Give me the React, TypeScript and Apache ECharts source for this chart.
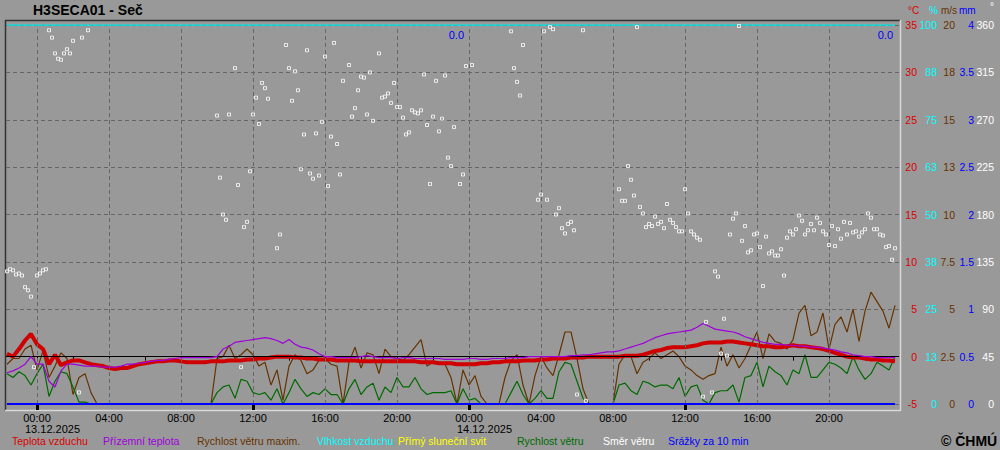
import React, { useEffect, useRef } from "react";
import * as echarts from "echarts";

// Time base: 10-minute slots counted from 13.12.2025 00:00; series sampled every 20 min from 12.12.2025 22:20
const START_SLOT = -10;
const STEP_SLOTS = 2;

// Teplota vzduchu (°C)
const airTemp = [
  0.3, 0.0, 0.8, 1.7, 2.4, 1.3, 0.8, -0.8, 0.2, -0.9,
  -0.6, -0.4, -0.4, -0.6, -0.8, -0.9, -1.0, -1.2, -1.3, -1.2,
  -1.2, -1.0, -0.8, -0.7, -0.6, -0.5, -0.5, -0.4, -0.4, -0.5,
  -0.6, -0.6, -0.6, -0.6, -0.5, -0.5, -0.5, -0.4, -0.4, -0.4,
  -0.3, -0.3, -0.2, -0.2, -0.1, 0.0, 0.0, 0.0, -0.1, -0.1,
  -0.2, -0.2, -0.3, -0.3, -0.3, -0.4, -0.4, -0.4, -0.4, -0.5,
  -0.5, -0.5, -0.5, -0.5, -0.5, -0.5, -0.5, -0.5, -0.5, -0.6,
  -0.6, -0.6, -0.7, -0.7, -0.7, -0.8, -0.8, -0.8, -0.8, -0.7,
  -0.7, -0.6, -0.6, -0.5, -0.5, -0.5, -0.4, -0.4, -0.4, -0.3,
  -0.3, -0.2, -0.2, -0.2, -0.1, -0.1, -0.1, 0.0, 0.0, 0.0,
  0.0, 0.0, 0.0, 0.1, 0.1, 0.1, 0.2, 0.4, 0.6, 0.7,
  0.9, 1.0, 1.0, 1.0, 1.1, 1.2, 1.4, 1.5, 1.5, 1.5,
  1.6, 1.6, 1.5, 1.4, 1.3, 1.2, 1.1, 1.1, 1.0, 1.0,
  1.1, 1.2, 1.1, 1.1, 1.0, 0.9, 0.8, 0.6, 0.4, 0.2,
  0.0, -0.1, -0.1, -0.2, -0.3, -0.3, -0.4, -0.4, -0.5,
];

// Přízemní teplota (°C)
const groundTemp = [
  -1.7, -1.5, -1.2, -0.8, 0.0, -0.8, -0.8, -2.6, -3.2, -1.5,
  -0.8, -0.8, -0.9, -1.0, -1.0, -1.0, -1.1, -1.1, -1.1, -1.0,
  -0.8, -0.8, -0.7, -0.6, -0.5, -0.4, -0.4, -0.3, -0.2, -0.1,
  -0.1, -0.1, -0.1, -0.1, -0.1, 0.0, 0.8, 1.1, 1.5, 1.6,
  1.7, 1.8, 1.9, 2.0, 1.9, 1.7, 1.4, 1.8, 1.3, 1.0,
  0.9, 0.7, 0.3, 0.0, 0.0, -0.1, -0.1, -0.1, -0.1, 0.0,
  0.1, 0.0, -0.1, -0.1, -0.1, -0.2, -0.1, -0.1, -0.2, -0.2,
  -0.2, -0.2, -0.2, -0.3, -0.3, -0.3, -0.3, -0.2, -0.2, -0.3,
  -0.3, -0.2, -0.2, -0.2, -0.1, -0.1, -0.1, 0.0, 0.0, 0.0,
  0.0, 0.0, 0.0, 0.0, 0.1, 0.1, 0.2, 0.2, 0.3, 0.4,
  0.5, 0.5, 0.6, 0.8, 1.0, 1.2, 1.4, 1.7, 2.0, 2.2,
  2.4, 2.5, 2.6, 2.7, 2.8, 3.1, 3.5, 3.2, 2.9, 2.8,
  2.7, 2.6, 2.4, 2.1, 1.9, 1.7, 1.5, 1.4, 1.3, 1.3,
  1.2, 1.2, 1.1, 1.1, 1.0, 1.0, 0.9, 0.8, 0.7, 0.5,
  0.4, 0.2, 0.1, 0.0, 0.0, -0.1, -0.1, -0.1, -0.1,
];

// Rychlost větru maxim. (m/s)
const windGust = [
  2.1, 2.4, 2.4, 2.9, 3.1, 1.8, 2.8, 1.4, 2.0, 2.7,
  2.4, 0.5, 1.4, 1.6, 0.6, 0, 0, 0, 0, 0,
  0, 0, 0, 0, 0, 0, 0, 0, 0, 0,
  0, 0, 0, 0, 0, 2.4, 2.5, 3.1, 2.4, 2.6,
  2.9, 2.6, 2.0, 2.2, 1.0, 1.8, 0.2, 2.0, 2.6, 2.3,
  1.6, 1.8, 2.3, 2.4, 2.1, 2.0, 0, 2.2, 3.0, 1.9,
  2.7, 2.6, 1.6, 2.9, 2.5, 2.4, 2.3, 2.6, 3.0, 3.4,
  2.0, 2.2, 2.1, 2.1, 1.4, 0, 1.8, 1.0, 1.5, 0.4,
  0, 0, 0, 1.4, 2.3, 2.6, 1.0, 0, 1.5, 2.5,
  1.9, 1.5, 2.6, 3.8, 3.8, 2.4, 0.8, 0, 0, 0,
  0, 0, 2.1, 2.6, 2.5, 1.6, 2.2, 2.4, 2.7, 2.4,
  2.6, 2.8, 2.5, 2.0, 1.8, 1.5, 1.3, 1.5, 1.6, 3.0,
  2.0, 2.6, 1.9, 2.4, 3.1, 3.8, 2.4, 3.7, 3.3, 3.2,
  2.9, 3.4, 4.8, 5.2, 3.6, 3.8, 4.8, 2.9, 4.2, 4.6,
  3.8, 5.0, 3.3, 4.9, 5.9, 5.4, 4.9, 4.0, 5.2,
];

// Rychlost větru (m/s)
const windSpeed = [
  1.6, 1.4, 1.7, 1.5, 1.0, 1.6, 2.1, 0.4, 1.2, 1.7,
  1.6, 0.9, 0.1, 0.1, 0, 0, 0, 0, 0, 0,
  0, 0, 0, 0, 0, 0, 0, 0, 0, 0,
  0, 0, 0, 0, 0, 0.6, 0.9, 1.0, 0.3, 1.3,
  1.2, 0.6, 0.5, 0.6, 0.2, 0.8, 0, 0.6, 1.3, 0.8,
  0.4, 0.6, 0.5, 0.8, 0.5, 0.5, 0, 0.8, 1.3, 0.5,
  0.9, 1.1, 0.2, 0.9, 0.6, 1.4, 0.9, 0.9, 1.4, 0.8,
  0.5, 0.6, 0.6, 0.6, 0.7, 0, 0.8, 0.2, 0.3, 0,
  0, 0, 0, 0, 0.6, 1.2, 0.5, 0, 0.3, 0.7,
  0.3, 0.3, 1.7, 2.2, 2.1, 1.2, 0.3, 0, 0, 0,
  0, 0, 1.0, 1.1, 0.7, 0.5, 1.2, 1.1, 0.9, 1.0,
  1.0, 0.8, 1.4, 0.4, 0.9, 1.0, 0.2, 0, 0.6, 0.7,
  0.7, 1.0, 0.1, 1.4, 1.5, 2.2, 0.9, 2.0, 1.7, 1.5,
  1.0, 1.8, 1.6, 2.6, 1.4, 1.4, 1.8, 2.2, 2.1, 1.9,
  1.6, 2.5, 1.8, 1.3, 1.6, 2.2, 2.0, 1.8, 2.5,
];

// Vlhkost vzduchu (%)
const humidity = [
  100, 100, 100, 100, 100, 100, 100, 100, 100, 100,
  100, 100, 100, 100, 100, 100, 100, 100, 100, 100,
  100, 100, 100, 100, 100, 100, 100, 100, 100, 100,
  100, 100, 100, 100, 100, 100, 100, 100, 100, 100,
  100, 100, 100, 100, 100, 100, 100, 100, 100, 100,
  100, 100, 100, 100, 100, 100, 100, 100, 100, 100,
  100, 100, 100, 100, 100, 100, 100, 100, 100, 100,
  100, 100, 100, 100, 100, 100, 100, 100, 100, 100,
  100, 100, 100, 100, 100, 100, 100, 100, 100, 100,
  100, 100, 100, 100, 100, 100, 100, 100, 100, 100,
  100, 100, 100, 100, 100, 100, 100, 100, 100, 100,
  100, 100, 100, 100, 100, 100, 100, 100, 100, 100,
  100, 100, 100, 100, 100, 100, 100, 100, 100, 100,
  100, 100, 100, 100, 100, 100, 100, 100, 100, 100,
  100, 100, 100, 100, 100, 100, 100, 100, 100,
];

// Přímý sluneční svit and Srážky za 10 min (all zero in this period)
const sunshine = [
  0, 0, 0, 0, 0, 0, 0, 0, 0, 0, 0, 0, 0, 0, 0, 0, 0, 0, 0, 0,
  0, 0, 0, 0, 0, 0, 0, 0, 0, 0, 0, 0, 0, 0, 0, 0, 0, 0, 0, 0,
  0, 0, 0, 0, 0, 0, 0, 0, 0, 0, 0, 0, 0, 0, 0, 0, 0, 0, 0, 0,
  0, 0, 0, 0, 0, 0, 0, 0, 0, 0, 0, 0, 0, 0, 0, 0, 0, 0, 0, 0,
  0, 0, 0, 0, 0, 0, 0, 0, 0, 0, 0, 0, 0, 0, 0, 0, 0, 0, 0, 0,
  0, 0, 0, 0, 0, 0, 0, 0, 0, 0, 0, 0, 0, 0, 0, 0, 0, 0, 0, 0,
  0, 0, 0, 0, 0, 0, 0, 0, 0, 0, 0, 0, 0, 0, 0, 0, 0, 0, 0, 0,
  0, 0, 0, 0, 0, 0, 0, 0, 0,
];
const precip = [
  0, 0, 0, 0, 0, 0, 0, 0, 0, 0, 0, 0, 0, 0, 0, 0, 0, 0, 0, 0,
  0, 0, 0, 0, 0, 0, 0, 0, 0, 0, 0, 0, 0, 0, 0, 0, 0, 0, 0, 0,
  0, 0, 0, 0, 0, 0, 0, 0, 0, 0, 0, 0, 0, 0, 0, 0, 0, 0, 0, 0,
  0, 0, 0, 0, 0, 0, 0, 0, 0, 0, 0, 0, 0, 0, 0, 0, 0, 0, 0, 0,
  0, 0, 0, 0, 0, 0, 0, 0, 0, 0, 0, 0, 0, 0, 0, 0, 0, 0, 0, 0,
  0, 0, 0, 0, 0, 0, 0, 0, 0, 0, 0, 0, 0, 0, 0, 0, 0, 0, 0, 0,
  0, 0, 0, 0, 0, 0, 0, 0, 0, 0, 0, 0, 0, 0, 0, 0, 0, 0, 0, 0,
  0, 0, 0, 0, 0, 0, 0, 0, 0,
];

// Směr větru: 10-min slot index and direction (°)
const dirSlot = [
  -10, -9, -8, -7, -6, -5, -4, -3, -2, -1, 0, 1, 2, 3, 4, 5, 6, 7, 8, 9, 10, 11, 12, 14, 15, 17,
  60, 61, 62, 63, 64, 66, 67, 68, 69, 70, 71, 72, 73, 74, 75, 76, 77, 80, 81, 83, 84, 85, 86, 87,
  88, 89, 90, 91, 92, 93, 94, 95, 96, 97, 98, 99, 100, 101, 102, 104, 105, 106, 107, 108, 109, 110,
  111, 112, 114, 115, 116, 117, 118, 119, 120, 121, 122, 123, 124, 125, 126, 127, 128, 129, 130,
  131, 132, 133, 134, 135, 136, 137, 138, 139, 141, 142, 143, 145,
  158, 159, 160, 161, 162, 167, 168, 169, 170, 171, 172, 173, 174, 175, 176, 177, 178, 179, 180, 182, 183,
  194, 195, 196, 197, 198, 199, 200, 201, 202, 203, 204, 205, 206, 207, 208, 209, 210, 211, 212, 213,
  214, 215, 216, 217, 218, 219, 220, 221, 222, 223, 225, 226, 227, 228, 229, 230, 231, 232, 233, 234,
  235, 236, 237, 238, 239, 240, 241, 242, 243, 244, 245, 246, 247, 248, 249, 250, 251, 252, 253, 254,
  255, 256, 257, 258, 259, 260, 261, 262, 263, 264, 265, 266, 267, 268, 269, 270, 271, 272, 273, 274,
  275, 276, 277, 278, 279, 280, 281, 282, 283, 284, 285, 286,
];
const dirDeg = [
  126, 128, 127, 123, 124, 122, 111, 108, 102, 35, 122, 124, 127, 128, 355, 348, 333, 328, 327, 333, 337, 333, 345, 11, 348, 355,
  274, 215, 180, 175, 275, 319, 208, 35, 168, 173, 221, 275, 291, 266, 305, 300, 290, 148, 161, 341, 319, 288, 316, 298,
  223, 256, 336, 219, 214, 257, 217, 268, 330, 207, 254, 343, 247, 218, 307, 322, 273, 281, 298, 311, 310, 275,
  315, 269, 333, 291, 292, 295, 286, 305, 282, 282, 272, 256, 258, 279, 277, 276, 279, 313, 265,
  209, 273, 307, 259, 271, 312, 234, 226, 263, 209, 218, 321, 322,
  354, 319, 306, 293, 341, 194, 199, 354, 194, 358, 356, 180, 186, 167, 162, 171, 173, 165, 9, 355, 3,
  204, 193, 193, 226, 213, 198, 358, 187, 181, 168, 171, 169, 178, 171, 173, 167, 190, 175, 172, 168,
  164, 164, 204, 181, 164, 161, 158, 156, 7, 78, 11, 126, 121, 48, 81, 46, 161, 176, 181, 359,
  155, 169, 144, 146, 161, 162, 149, 112, 159, 143, 145, 141, 141, 147, 122, 158, 164, 161, 166, 179,
  174, 161, 165, 171, 165, 177, 172, 164, 161, 151, 169, 150, 166, 157, 173, 161, 172, 163, 164, 159,
  163, 166, 181, 177, 166, 166, 161, 160, 149, 150, 137, 148,
];

// Axis labels
const tempTicks = ["-5", "0", "5", "10", "15", "20", "25", "30", "35"];
const humTicks = ["0", "13", "25", "38", "50", "63", "75", "88", "100"];
const windTicks = ["0", "2.5", "5", "7.5", "10", "13", "15", "18", "20"];
const precTicks = ["0", "0.5", "1", "1.5", "2", "2.5", "3", "3.5", "4"];
const dirTicks = ["0", "45", "90", "135", "180", "225", "270", "315", "360"];
const hourLabels = ["00:00", "04:00", "08:00", "12:00", "16:00", "20:00", "00:00", "04:00", "08:00", "12:00", "16:00", "20:00"];
const labelHours = [0, 4, 8, 12, 16, 20, 24, 28, 32, 36, 40, 44];
const tickHours = [0, 2, 4, 6, 8, 10, 12, 14, 16, 18, 20, 22, 24, 26, 28, 30, 32, 34, 36, 38, 40, 42, 44, 46];
const majorTickHours = [0, 12, 24, 36];
const dayHours = [0, 24];
const dayLabels = ["13.12.2025", "14.12.2025"];
const dailyPrecip = ["0.0", "0.0"];

const X_MIN = -31 / 18;
const X_MAX = 862 / 18;
const FONT = '"Liberation Sans", Arial, sans-serif';
const BG = "#999999";

const toLine = (arr: number[]) => arr.map((v, i) => [(START_SLOT + i * STEP_SLOTS) / 6, v]);

function buildOption() {
  const yAx = (min: number, max: number, interval: number, labels: string[], color: string, margin: number, split: boolean) => ({
    type: "value",
    position: "right",
    min,
    max,
    interval,
    axisLine: { show: false },
    axisTick: { show: false },
    splitLine: split ? { show: true, lineStyle: { color: "#666666", type: [4, 3], width: 1 } } : { show: false },
    axisLabel: {
      color,
      fontSize: 10.5,
      fontFamily: FONT,
      margin,
      align: "right",
      formatter: (v: number) => labels[Math.round((v - min) / interval)] ?? "",
    },
  });

  const txt = (text: string, x: number, y: number, fill: string, opts: any = {}) => ({
    type: "text",
    x,
    y,
    silent: true,
    style: {
      text,
      fill,
      font: opts.font || `10.5px ${FONT}`,
      textAlign: opts.align || "left",
      textVerticalAlign: "middle",
      align: opts.align || "left",
      verticalAlign: "middle",
    },
  });

  const legendItems = [
    ["Teplota vzduchu", 12, "#dd0000"],
    ["Přízemní teplota", 103, "#a000dc"],
    ["Rychlost větru maxim.", 197, "#663300"],
    ["Vlhkost vzduchu", 317, "#00ffff"],
    ["Přímý sluneční svit", 398, "#ffff00"],
    ["Rychlost větru", 517, "#006a00"],
    ["Směr větru", 603, "#ffffff"],
    ["Srážky za 10 min", 668, "#0000ff"],
  ] as const;

  const graphic: any[] = [
    { type: "line", silent: true, shape: { x1: 5, y1: 20.5, x2: 900, y2: 20.5 }, style: { stroke: "#333333", lineWidth: 1.5 } },
    { type: "line", silent: true, shape: { x1: 5.5, y1: 20, x2: 5.5, y2: 411 }, style: { stroke: "#333333", lineWidth: 1.5 } },
    { type: "line", silent: true, shape: { x1: 900.5, y1: 20, x2: 900.5, y2: 411 }, style: { stroke: "#d8d8d8", lineWidth: 1.5 } },
    { type: "line", silent: true, shape: { x1: 5, y1: 410.5, x2: 901, y2: 410.5 }, style: { stroke: "#d8d8d8", lineWidth: 1.5 } },
    txt("H3SECA01 - Seč", 33, 10, "#000000", { font: `bold 14px ${FONT}` }),
    txt("°C", 908, 10, "#dd0000", { font: `10px ${FONT}` }),
    txt("%", 929, 10, "#00ffff", { font: `10px ${FONT}` }),
    txt("m/s", 941, 10, "#663300", { font: `10px ${FONT}` }),
    txt("mm", 959, 10, "#0000ff", { font: `10px ${FONT}` }),
    txt("°", 990, 6, "#ffffff", { font: `10px ${FONT}` }),
    txt(dayLabels[0], 25, 429, "#000000", { font: `11px ${FONT}` }),
    txt(dayLabels[1], 457, 429, "#000000", { font: `11px ${FONT}` }),
    txt(dailyPrecip[0], 464, 35, "#0000ff", { align: "right", font: `11px ${FONT}` }),
    txt(dailyPrecip[1], 893, 35, "#0000ff", { align: "right", font: `11px ${FONT}` }),
    txt("© ČHMÚ", 941, 441, "#000000", { font: `bold 14px ${FONT}` }),
    ...legendItems.map(([t, x, c]) => txt(t as string, x as number, 441, c as string)),
  ];

  return {
    animation: false,
    backgroundColor: BG,
    grid: { left: 6, right: 101, top: 25, bottom: 46, containLabel: false },
    xAxis: [
      {
        type: "value",
        min: X_MIN,
        max: X_MAX,
        position: "bottom",
        axisLine: { show: false },
        splitLine: { show: false },
        axisTick: { show: true, customValues: tickHours, length: 4, lineStyle: { color: "#000000", width: 1 } },
        axisLabel: {
          show: true,
          customValues: labelHours,
          color: "#000000",
          fontSize: 11,
          fontFamily: FONT,
          margin: 8,
          formatter: (v: number) => hourLabels[Math.round(v / 4)] ?? "",
        },
      },
      {
        type: "value",
        min: X_MIN,
        max: X_MAX,
        position: "bottom",
        axisLine: { show: false },
        splitLine: { show: false },
        axisLabel: { show: false },
        axisTick: { show: true, customValues: majorTickHours, length: 6, lineStyle: { color: "#000000", width: 3 } },
      },
      {
        type: "value",
        min: X_MIN,
        max: X_MAX,
        position: "top",
        axisLine: { show: false },
        splitLine: { show: false },
        axisLabel: { show: false },
        axisTick: { show: true, inside: true, customValues: dayHours, length: 6, lineStyle: { color: "#000000", width: 1.5 } },
      },
    ],
    yAxis: [
      yAx(-5, 35, 5, tempTicks, "#dd0000", 18, true),
      yAx(0, 100, 12.5, humTicks, "#00ffff", 38, false),
      yAx(0, 20, 2.5, windTicks, "#663300", 56, false),
      yAx(0, 4, 0.5, precTicks, "#0000ff", 75, false),
      yAx(0, 360, 45, dirTicks, "#ffffff", 95, false),
    ],
    series: [
      {
        type: "line",
        name: "grid",
        data: [],
        z: 1,
        silent: true,
        markLine: {
          silent: true,
          symbol: ["none", "none"],
          label: { show: false },
          data: [
            ...labelHours.map((h) => ({ xAxis: h, lineStyle: { type: [4, 3], color: "#666666", width: 1 } })),
            { yAxis: 0, lineStyle: { type: "solid", color: "#000000", width: 1 } },
          ],
        },
      },
      {
        type: "line",
        name: "Rychlost větru maxim.",
        yAxisIndex: 2,
        data: toLine(windGust),
        showSymbol: false,
        z: 2,
        lineStyle: { color: "#663300", width: 1.2 },
      },
      {
        type: "line",
        name: "Rychlost větru",
        yAxisIndex: 2,
        data: toLine(windSpeed),
        showSymbol: false,
        z: 3,
        lineStyle: { color: "#006a00", width: 1.2 },
      },
      {
        type: "line",
        name: "Teplota vzduchu",
        yAxisIndex: 0,
        data: toLine(airTemp),
        showSymbol: false,
        z: 4,
        lineStyle: { color: "#d00000", width: 4 },
      },
      {
        type: "line",
        name: "Přízemní teplota",
        yAxisIndex: 0,
        data: toLine(groundTemp),
        showSymbol: false,
        z: 5,
        lineStyle: { color: "#a000dc", width: 1.2 },
      },
      {
        type: "line",
        name: "Vlhkost vzduchu",
        yAxisIndex: 1,
        data: toLine(humidity),
        showSymbol: false,
        z: 5,
        lineStyle: { color: "#00e8e8", width: 1.5 },
      },
      {
        type: "line",
        name: "Přímý sluneční svit",
        yAxisIndex: 3,
        data: toLine(sunshine),
        showSymbol: false,
        z: 5,
        lineStyle: { color: "#ffff00", width: 1 },
      },
      {
        type: "line",
        name: "Srážky za 10 min",
        yAxisIndex: 3,
        data: toLine(precip),
        showSymbol: false,
        z: 6,
        lineStyle: { color: "#0000ff", width: 2 },
      },
      {
        type: "scatter",
        name: "Směr větru",
        yAxisIndex: 4,
        data: dirSlot.map((s, i) => [s / 6, dirDeg[i]]),
        symbol: "rect",
        symbolSize: 3,
        clip: false,
        z: 7,
        itemStyle: { color: BG, borderColor: "#ffffff", borderWidth: 1 },
      },
    ],
    graphic,
  };
}

export default function App() {
  const ref = useRef<HTMLDivElement>(null);
  useEffect(() => {
    if (!ref.current) return;
    const chart = echarts.init(ref.current, null, { renderer: "svg" });
    chart.setOption(buildOption() as any);
    return () => chart.dispose();
  }, []);
  return <div ref={ref} style={{ position: "fixed", left: 0, top: 0, width: 1000, height: 450 }} />;
}
